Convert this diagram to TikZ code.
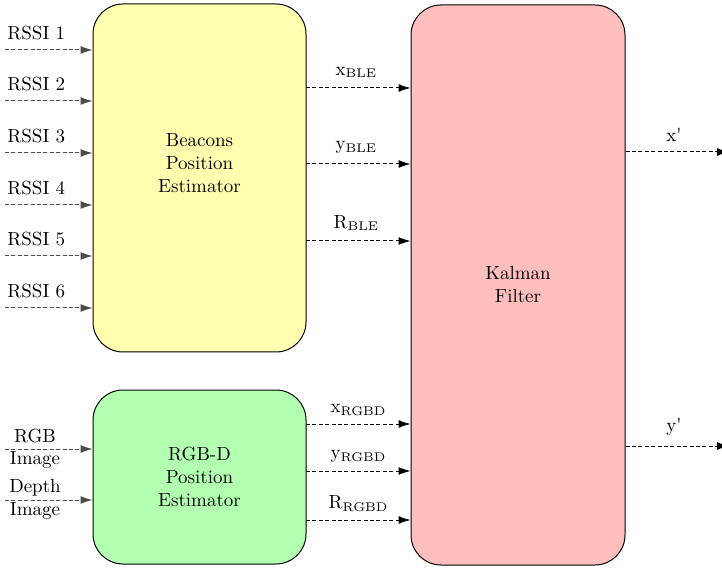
\documentclass[tikz,border=0pt]{standalone}
\usetikzlibrary{arrows.meta}

\definecolor{bleyellow}{RGB}{255,255,176}
\definecolor{rgbdgreen}{RGB}{178,255,178}
\definecolor{kalmanred}{RGB}{255,190,190}

\tikzset{
  block/.style={draw=black, line width=0.5pt, rounded corners=15pt,
    align=center, inner sep=0pt},
  blocktext/.style={align=center, inner sep=0pt},
  sig/.style={-{Latex[length=6pt,width=4pt]}, line width=0.5pt,
    dash pattern=on 2pt off 1.2pt},
  insig/.style={sig, draw=black!70, fill=black!85},
  lbl/.style={inner sep=1pt, font=\fontsize{9.5}{11.5}\selectfont},
}
\newcommand{\sigsub}[2]{#1\raisebox{-0.3ex}{\fontsize{6.3}{7}\selectfont #2}}

\begin{document}
\begin{tikzpicture}[x=0.5pt, y=-0.5pt, font=\fontsize{9.5}{11.5}\selectfont]
\useasboundingbox (0,0) rectangle (722,571);

% processing blocks
\node[block, fill=bleyellow, minimum width=106.5pt, minimum height=174pt]
  (bpe) at (199.5,178) {};
\node[blocktext] (bpet) at (199.5,163) {Beacons\\Position\\Estimator};
\node[block, fill=rgbdgreen, minimum width=106.5pt, minimum height=87pt]
  (rpe) at (199.5,477) {RGB-D\\Position\\Estimator};
\node[block, fill=kalmanred, minimum width=107pt, minimum height=280pt]
  (kf) at (518,285) {Kalman\\Filter};

% RSSI inputs
\foreach \i/\yy in {1/50,2/101,3/153,4/205,5/256,6/308}{
  \coordinate (r\i) at (5,\yy);
  \draw[insig] (r\i) -- (r\i -| bpe.west);
  \node[lbl, anchor=south west] (rl\i) at ([yshift=4pt]r\i) {RSSI \i};
}

% camera inputs
\coordinate (cam1) at (5,449);
\coordinate (cam2) at (5,500);
\draw[insig] (cam1) -- (cam1 -| rpe.west);
\draw[insig] (cam2) -- (cam2 -| rpe.west);
\node[lbl] (cl1) at (35,436) {RGB};
\node[lbl] (cl2) at (35,460) {Image};
\node[lbl] (cl3) at (35,488) {Depth};
\node[lbl] (cl4) at (35,511) {Image};

% BLE estimates to the filter
\foreach \n/\yy/\t in {xb/88/x, yb/164/y, rb/241/R}{
  \coordinate (\n) at (306,\yy);
  \draw[sig] (\n) -- (\n -| kf.west);
  \node[lbl, anchor=south] (\n l) at ([yshift=4pt]356,\yy) {\sigsub{\t}{BLE}};
}

% RGB-D estimates to the filter
\foreach \n/\yy/\t in {xr/424/x, yr/471/y, rr/520/R}{
  \coordinate (\n) at (306,\yy);
  \draw[sig] (\n) -- (\n -| kf.west);
  \node[lbl, anchor=south] (\n l) at ([yshift=3pt]358,\yy) {\sigsub{\t}{RGBD}};
}

% filter outputs
\coordinate (xo) at (729,152);
\coordinate (yo) at (729,446);
\draw[sig] (kf.east |- xo) -- (xo);
\draw[sig] (kf.east |- yo) -- (yo);
\node[lbl, anchor=south] (xol) at ([yshift=4pt]674,152) {x\textquotesingle};
\node[lbl, anchor=south] (yol) at ([yshift=4pt]674,446) {y\textquotesingle};
\end{tikzpicture}
\end{document}
